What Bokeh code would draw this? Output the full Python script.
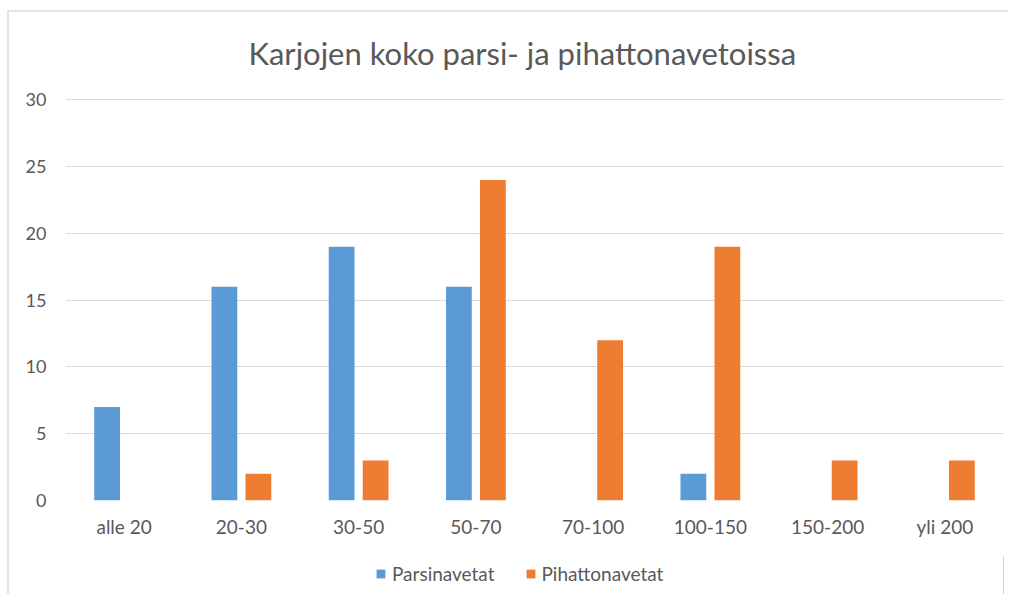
from bokeh.plotting import figure
from bokeh.layouts import column
from bokeh.models import FactorRange, Range1d, Legend, LegendItem, FixedTicker, ColumnDataSource
from bokeh.transform import dodge
from bokeh.embed import file_html
from bokeh.resources import INLINE

categories = ["alle 20", "20-30", "30-50", "50-70", "70-100", "100-150", "150-200", "yli 200"]
parsinavetat = [7, 16, 19, 16, 0, 2, 0, 0]
pihattonavetat = [0, 2, 3, 24, 12, 19, 3, 3]
series_names = ["Parsinavetat", "Pihattonavetat"]
colors = ["#5B9BD5", "#ED7D31"]
y_ticks = [0, 5, 10, 15, 20, 25, 30]
title_text = "Karjojen koko parsi- ja pihattonavetoissa"

FONT = "Lato"
TXT = "#595959"

src = ColumnDataSource(dict(cat=categories, a=parsinavetat, b=pihattonavetat))

p = figure(x_range=FactorRange(factors=categories, range_padding=0),
           y_range=Range1d(0, 31), width=999, height=544,
           output_backend="svg", toolbar_location=None,
           min_border_left=56, min_border_right=5, min_border_top=74, min_border_bottom=56)

p.vbar(x=dodge("cat", -0.145, range=p.x_range), top="a", width=0.22, source=src,
       fill_color=colors[0], line_color=None)
p.vbar(x=dodge("cat", 0.145, range=p.x_range), top="b", width=0.22, source=src,
       fill_color=colors[1], line_color=None)

p.title.text = title_text
p.title.align = "left"
p.title.vertical_align = "bottom"
p.title.text_font = FONT
p.title.text_font_size = "31px"
p.title.text_font_style = "normal"
p.title.text_color = TXT
p.title.offset = 183
p.title.standoff = 30

p.outline_line_color = None
p.xgrid.grid_line_color = None
p.ygrid.grid_line_color = "#D9D9D9"
p.ygrid.grid_line_width = 1
p.yaxis.ticker = FixedTicker(ticks=y_ticks)

for ax in (p.xaxis, p.yaxis):
    ax.axis_line_color = None
    ax.major_tick_line_color = None
    ax.minor_tick_line_color = None
    ax.major_label_text_font = FONT
    ax.major_label_text_color = TXT
p.yaxis.major_label_text_font_size = "18px"
p.xaxis.major_label_text_font_size = "19px"
p.yaxis.major_label_standoff = 13
p.xaxis.major_label_standoff = 8

# legend strip below the chart
lg = figure(width=999, height=38, x_range=Range1d(0, 1), y_range=Range1d(0, 1),
            output_backend="svg", toolbar_location=None,
            x_axis_location=None, y_axis_location=None,
            min_border_left=0, min_border_right=0, min_border_top=0, min_border_bottom=0)
lg.grid.visible = False
lg.outline_line_color = None
swatch = ColumnDataSource(dict(x=[5], top=[1]))
lr1 = lg.vbar(x="x", top="top", width=0.1, source=swatch, fill_color=colors[0], line_color=None)
lr2 = lg.vbar(x="x", top="top", width=0.1, source=swatch, fill_color=colors[1], line_color=None)

legend = Legend(items=[LegendItem(label=series_names[0], renderers=[lr1]),
                       LegendItem(label=series_names[1], renderers=[lr2])],
                orientation="horizontal", location=(310, 9),
                label_text_font=FONT, label_text_font_size="19px", label_text_color=TXT,
                glyph_width=11, glyph_height=11, spacing=30, label_standoff=6,
                border_line_color=None, background_fill_alpha=0, margin=0, padding=4)
lg.add_layout(legend, "center")

layout = column(p, lg, spacing=0, margin=(10, 0, 0, 7),
                styles={"border-left": "2px solid #E3E3E3", "border-top": "2px solid #E3E3E3",
                        "border-right": "0px none", "border-bottom": "0px none"})
open("out.html", "w").write(file_html(layout, INLINE))
